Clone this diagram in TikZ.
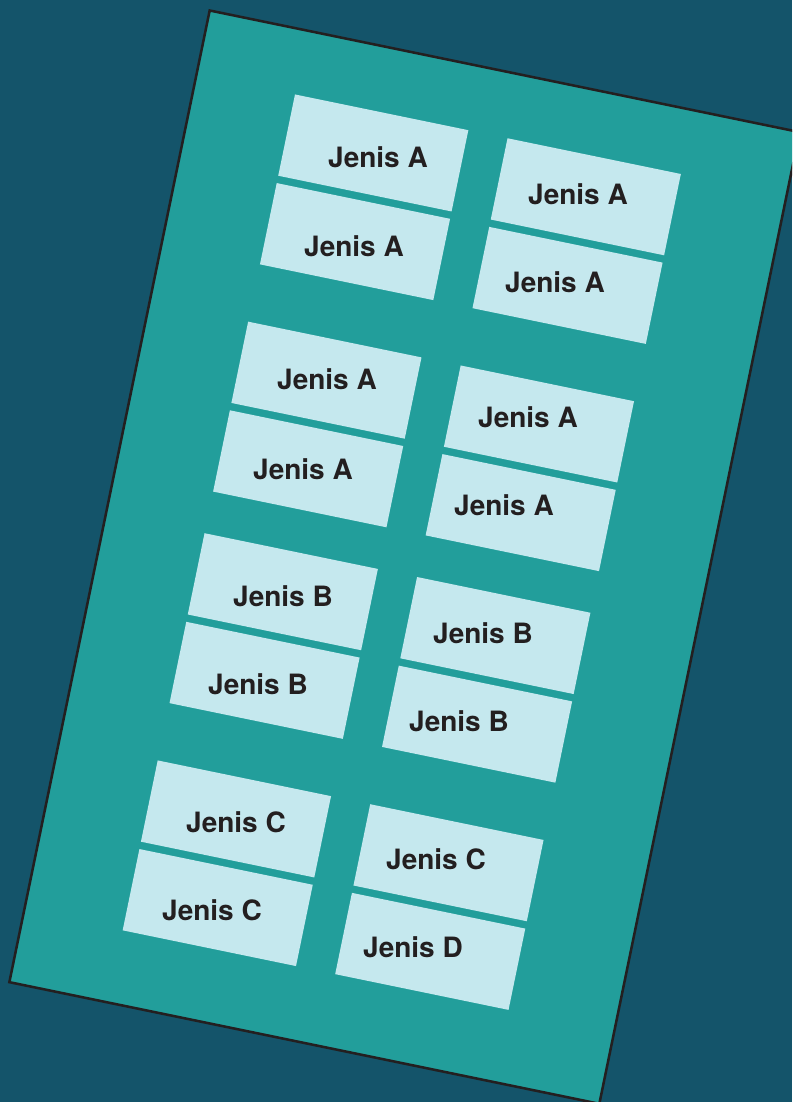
\documentclass[tikz,border=0pt]{standalone}
\usepackage{fontspec}
\setmainfont{TeX Gyre Heros}
\usepackage{tikz}
\usetikzlibrary{positioning}
\definecolor{deepteal}{HTML}{14546A}
\definecolor{traygreen}{HTML}{229E9B}
\definecolor{cardblue}{HTML}{C5E8EE}
\definecolor{inkblack}{HTML}{231F20}
\tikzset{
  % brett og kort
  tray/.style={draw=inkblack,fill=traygreen,line width=1.9pt,anchor=north west,
               inner sep=0pt,minimum width=451.8pt,minimum height=744.1pt,transform shape},
  card/.style={fill=cardblue,anchor=north west,inner sep=0pt,
               minimum width=132.75pt,minimum height=62.25pt,transform shape},
  lbl/.style={font=\fontsize{21}{25}\selectfont\bfseries,text=inkblack,inner sep=0pt},
}

\begin{document}
\begin{tikzpicture}[x=0.75pt,y=0.75pt]
\useasboundingbox (0,0) rectangle (792,-1102);
\clip (0,0) rectangle (792,-1102);
  \fill[deepteal] (0,0) rectangle (792,-1102);
  \begin{scope}[shift={(208.7,-9)},rotate=-11.65]
    \node[tray] (tray) at (0,0) {};
    % rad 1
    \node[card] (a1) at (101.5,-66) {};
    \node[card] (a2) at (101.5,-156.5) {};
    \node[card] (a3) at (318.5,-66) {};
    \node[card] (a4) at (318.5,-156.5) {};
    % rad 2
    \node[card] (a5) at (101.5,-298) {};
    \node[card] (a6) at (101.5,-388.5) {};
    \node[card] (a7) at (318.5,-298) {};
    \node[card] (a8) at (318.5,-388.5) {};
    % rad 3
    \node[card] (b1) at (101.5,-514) {};
    \node[card] (b2) at (101.5,-604.5) {};
    \node[card] (b3) at (318.5,-514) {};
    \node[card] (b4) at (318.5,-604.5) {};
    % rad 4
    \node[card] (c1) at (101.5,-746) {};
    \node[card] (c2) at (101.5,-836.5) {};
    \node[card] (c3) at (318.5,-746) {};
    \node[card] (d1) at (318.5,-836.5) {};
  \end{scope}
  \node[lbl] (ta1) at (378,-157) {Jenis A};
  \node[lbl] (ta2) at (354,-246) {Jenis A};
  \node[lbl] (ta3) at (578,-194) {Jenis A};
  \node[lbl] (ta4) at (555,-282) {Jenis A};
  \node[lbl] (ta5) at (327,-379) {Jenis A};
  \node[lbl] (ta6) at (303,-469) {Jenis A};
  \node[lbl] (ta7) at (528,-417) {Jenis A};
  \node[lbl] (ta8) at (504,-505) {Jenis A};
  \node[lbl] (tb1) at (283,-596) {Jenis B};
  \node[lbl] (tb2) at (258,-684) {Jenis B};
  \node[lbl] (tb3) at (483,-633) {Jenis B};
  \node[lbl] (tb4) at (459,-721) {Jenis B};
  \node[lbl] (tc1) at (236,-822) {Jenis C};
  \node[lbl] (tc2) at (212,-910) {Jenis C};
  \node[lbl] (tc3) at (436,-859) {Jenis C};
  \node[lbl] (td1) at (413,-947.5) {Jenis D};
\end{tikzpicture}
\end{document}
